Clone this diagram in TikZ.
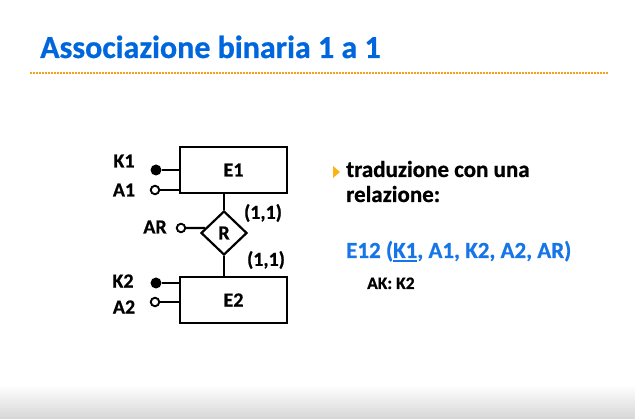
\documentclass[tikz,border=0pt]{standalone}
\usepackage{fontspec}
\setmainfont{Carlito}[BoldFeatures={FakeBold=0.7}]
\usetikzlibrary{shapes.geometric}
\definecolor{titleblue}{RGB}{0,102,221}
\definecolor{relblue}{RGB}{22,118,232}
\definecolor{ruleorange}{RGB}{245,160,30}
\definecolor{bulletorange}{RGB}{250,180,20}
% thick underline for the primary key
\newcommand\pkey[1]{\leavevmode\setbox0\hbox{#1}\rlap{\rule[-4.5pt]{\wd0}{2pt}}\box0}
\begin{document}
\begin{tikzpicture}[x=1pt,y=-1pt,
  ent/.style={draw, line width=2.2pt, minimum width=107pt, minimum height=46pt,
    inner sep=0pt, font=\bfseries\fontsize{20}{24}\selectfont},
  rel/.style={draw, diamond, line width=2.2pt, minimum width=46pt, minimum height=44pt,
    inner sep=0pt, font=\bfseries\fontsize{20}{24}\selectfont},
  keyatt/.style={circle, fill=black, minimum size=11pt, inner sep=0pt},
  att/.style={circle, draw=black, fill=white, line width=1.9pt, minimum size=8.5pt, inner sep=0pt},
  lbl/.style={font=\bfseries\fontsize{20}{24}\selectfont, inner sep=0pt},
  link/.style={line width=2.2pt},
  bodytext/.style={anchor=base west, inner sep=0pt}]
\useasboundingbox (0,0) rectangle (635,419);
\fill[white] (0,0) rectangle (635,419);
% soft grey band along the bottom edge
\shade[top color=white, bottom color=black!16] (0,385) rectangle (635,419);

% heading and dotted rule
\node[bodytext, text=titleblue, font=\bfseries\fontsize{32}{38}\selectfont] (title) at (40,58) {Associazione binaria 1 a 1};
\draw[ruleorange, line width=1.1pt, dash pattern=on 2pt off 1pt] (30,73) -- (608,73);

% entities and relationship
\node[ent] (E1) at (233.5,170) {E1};
\node[ent] (E2) at (233.5,300) {E2};
\node[rel] (R) at (224,233) {R};
\draw[link] (R.north) -- (R.north |- E1.south);
\draw[link] (R.south) -- (R.south |- E2.north);

% attributes
\node[keyatt] (k1) at (156,170) {};
\node[att] (a1) at (155,190) {};
\node[keyatt] (k2) at (156,283) {};
\node[att] (a2) at (155,302) {};
\node[att] (ar) at (181,228) {};
\draw[link] (k1) -- (k1 -| E1.west);
\draw[link] (a1.east) -- (a1 -| E1.west);
\draw[link] (k2) -- (k2 -| E2.west);
\draw[link] (a2.east) -- (a2 -| E2.west);
\draw[link] (ar.east) -- (R.165);

\node[lbl] (lk1) at (124,161) {K1};
\node[lbl] (la1) at (124,190) {A1};
\node[lbl] (lk2) at (123,281) {K2};
\node[lbl] (la2) at (124,307) {A2};
\node[lbl] (lar) at (155,227) {AR};
\node[lbl] (c1) at (263,213) {(1,1)};
\node[lbl] (c2) at (266,260) {(1,1)};

% translation text
\fill[bulletorange] (333,166) -- (340,172) -- (333,178) -- cycle;
\node[bodytext, font=\bfseries\fontsize{23}{27}\selectfont] (t1) at (346,177) {traduzione con una};
\node[bodytext, font=\bfseries\fontsize{23}{27}\selectfont] (t2) at (346,202) {relazione:};
\node[bodytext, text=relblue, font=\bfseries\fontsize{23}{28}\selectfont] (schema) at (346,258)
  {E12 (\pkey{K1}, A1, K2, A2, AR)};
\node[bodytext, font=\bfseries\fontsize{17.5}{21}\selectfont] (ak) at (367,289) {AK: K2};
\end{tikzpicture}
\end{document}
